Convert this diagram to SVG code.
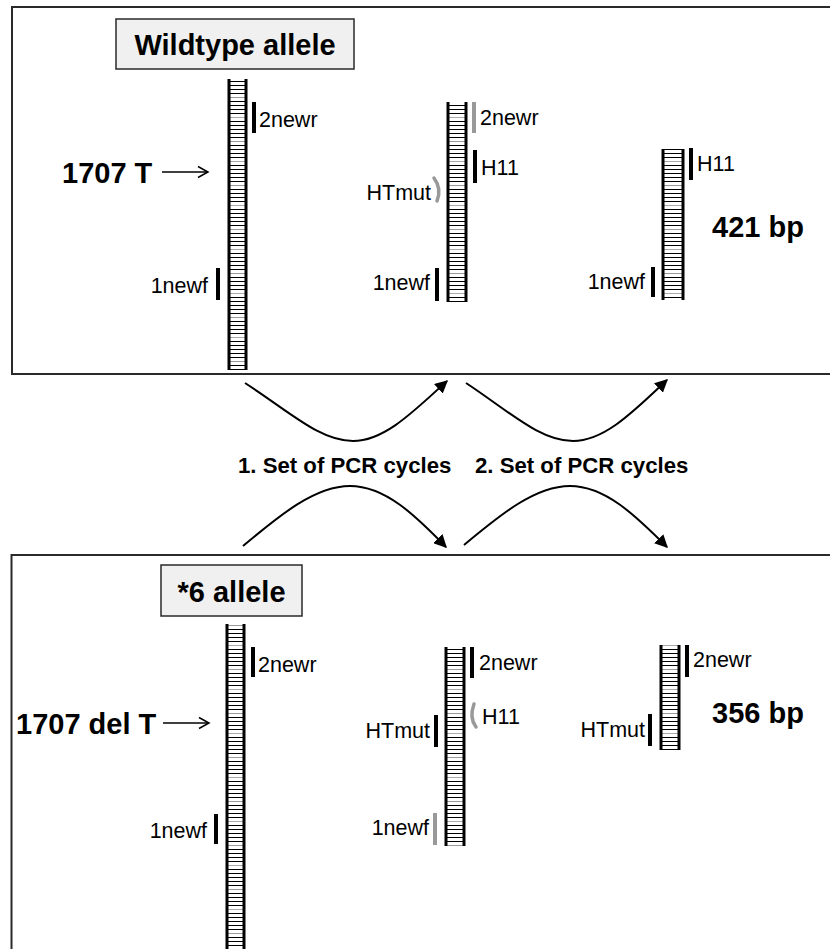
<svg xmlns="http://www.w3.org/2000/svg" width="830" height="949" viewBox="0 0 830 949">
<style>
  .panel{fill:#fff;stroke:#2a2a2a;stroke-width:2}
  .title{fill:#f0f0f0;stroke:#2a2a2a;stroke-width:1.5}
  .big{font-family:"Liberation Sans",Arial,sans-serif;font-weight:bold;font-size:29px;fill:#000}
  .pcr{font-family:"Liberation Sans",Arial,sans-serif;font-weight:bold;font-size:22.2px;fill:#000}
  .lbl{font-family:"Liberation Sans",Arial,sans-serif;font-size:21.5px;fill:#000}
  .end{text-anchor:end}
  .strand{stroke:#000;stroke-width:3;fill:none}
  .bar{stroke:#000;stroke-width:4;fill:none}
  .gbar{stroke:#999;stroke-width:4;fill:none}
  .gcurve{stroke:#999;stroke-width:3.5;fill:none;stroke-linecap:round}
  .conn{stroke:#000;stroke-width:2;fill:none}
  .ptr{stroke:#000;stroke-width:1.5;fill:none}
</style>
<defs>
  <pattern id="rungs" patternUnits="userSpaceOnUse" x="0" y="0" width="40" height="44">
    <g stroke-width="1.2">
      <line x1="0" y1="1.5" x2="40" y2="1.5" stroke="#000"/>
      <line x1="0" y1="5.5" x2="40" y2="5.5" stroke="#000"/>
      <line x1="0" y1="9.5" x2="40" y2="9.5" stroke="#999"/>
      <line x1="0" y1="13.5" x2="40" y2="13.5" stroke="#000"/>
      <line x1="0" y1="17.5" x2="40" y2="17.5" stroke="#000"/>
      <line x1="0" y1="21.5" x2="40" y2="21.5" stroke="#000"/>
      <line x1="0" y1="25.5" x2="40" y2="25.5" stroke="#000"/>
      <line x1="0" y1="29.5" x2="40" y2="29.5" stroke="#aaa"/>
      <line x1="0" y1="33.5" x2="40" y2="33.5" stroke="#000"/>
      <line x1="0" y1="37.5" x2="40" y2="37.5" stroke="#000"/>
      <line x1="0" y1="41.5" x2="40" y2="41.5" stroke="#000"/>
    </g>
  </pattern>
  <marker id="ah" viewBox="0 0 10 10" refX="9" refY="5" markerWidth="6.5" markerHeight="6.5" orient="auto" markerUnits="strokeWidth">
    <path d="M0,0 L10,5 L0,10 z" fill="#000"/>
  </marker>
</defs>

<g id="panel-top"><rect class="panel" x="12" y="7" width="830" height="367"/></g>
<g id="panel-bottom"><rect class="panel" x="11.5" y="555" width="830" height="420"/></g>

<g id="title-wildtype">
  <rect class="title" x="116" y="19" width="238" height="50"/>
  <text class="big" x="235" y="55" text-anchor="middle">Wildtype allele</text>
</g>
<g id="title-star6">
  <rect class="title" x="161" y="565" width="141" height="51"/>
  <text class="big" x="231.5" y="602" text-anchor="middle">*6 allele</text>
</g>

<!-- Top panel ladders -->
<g id="ladder-wt-1">
  <rect x="229" y="79" width="17" height="291" fill="url(#rungs)"/>
  <line class="strand" x1="229" y1="79" x2="229" y2="370"/>
  <line class="strand" x1="246" y1="79" x2="246" y2="370"/>
  <line class="bar" x1="254" y1="102" x2="254" y2="133"/>
  <text class="lbl" x="259" y="127">2newr</text>
  <line class="bar" x1="218" y1="268" x2="218" y2="300"/>
  <text class="lbl end" x="208" y="293">1newf</text>
</g>
<g id="label-1707T">
  <text class="big" x="62" y="183">1707 T</text>
  <line class="ptr" x1="162" y1="172" x2="208" y2="172"/>
  <path class="ptr" d="M198,166.5 L208,172 L198,177.5"/>
</g>
<g id="ladder-wt-2">
  <rect x="448" y="102" width="18" height="200" fill="url(#rungs)"/>
  <line class="strand" x1="448" y1="102" x2="448" y2="302"/>
  <line class="strand" x1="466" y1="102" x2="466" y2="302"/>
  <line class="gbar" x1="474" y1="102" x2="474" y2="133"/>
  <text class="lbl" x="480" y="125">2newr</text>
  <line class="bar" x1="475" y1="150" x2="475" y2="183"/>
  <text class="lbl" x="481" y="175">H11</text>
  <path class="gcurve" d="M434,178 Q442,189 437,201"/>
  <text class="lbl end" x="431" y="200">HTmut</text>
  <line class="bar" x1="437" y1="268" x2="437" y2="301"/>
  <text class="lbl end" x="430" y="290">1newf</text>
</g>
<g id="ladder-wt-3">
  <rect x="663" y="149" width="20" height="151" fill="url(#rungs)"/>
  <line class="strand" x1="663" y1="149" x2="663" y2="300"/>
  <line class="strand" x1="683" y1="149" x2="683" y2="300"/>
  <line class="bar" x1="691" y1="148" x2="691" y2="180"/>
  <text class="lbl" x="697" y="171">H11</text>
  <line class="bar" x1="653" y1="267" x2="653" y2="297"/>
  <text class="lbl end" x="645" y="289">1newf</text>
</g>
<g id="label-421bp"><text class="big" x="712" y="237">421 bp</text></g>

<!-- Bottom panel ladders -->
<g id="ladder-mut-1">
  <rect x="227" y="624" width="17" height="330" fill="url(#rungs)"/>
  <line class="strand" x1="227" y1="624" x2="227" y2="954"/>
  <line class="strand" x1="244" y1="624" x2="244" y2="954"/>
  <line class="bar" x1="253" y1="647" x2="253" y2="677"/>
  <text class="lbl" x="258" y="672">2newr</text>
  <line class="bar" x1="216" y1="814" x2="216" y2="844"/>
  <text class="lbl end" x="207" y="838">1newf</text>
</g>
<g id="label-1707delT">
  <text class="big" x="16" y="734">1707 del T</text>
  <line class="ptr" x1="163" y1="723" x2="209" y2="723"/>
  <path class="ptr" d="M199,717.5 L209,723 L199,728.5"/>
</g>
<g id="ladder-mut-2">
  <rect x="446" y="647" width="18" height="199" fill="url(#rungs)"/>
  <line class="strand" x1="446" y1="647" x2="446" y2="846"/>
  <line class="strand" x1="464" y1="647" x2="464" y2="846"/>
  <line class="bar" x1="472" y1="647" x2="472" y2="678"/>
  <text class="lbl" x="479" y="670">2newr</text>
  <path class="gcurve" d="M474,704 Q469,718 476,727"/>
  <text class="lbl" x="482" y="724">H11</text>
  <line class="bar" x1="436" y1="715" x2="436" y2="747"/>
  <text class="lbl end" x="430" y="738">HTmut</text>
  <line class="gbar" x1="435" y1="813" x2="435" y2="845"/>
  <text class="lbl end" x="429" y="835">1newf</text>
</g>
<g id="ladder-mut-3">
  <rect x="661" y="645" width="18" height="105" fill="url(#rungs)"/>
  <line class="strand" x1="661" y1="645" x2="661" y2="750"/>
  <line class="strand" x1="679" y1="645" x2="679" y2="750"/>
  <line class="bar" x1="687" y1="645" x2="687" y2="677"/>
  <text class="lbl" x="693" y="667">2newr</text>
  <line class="bar" x1="650" y1="714" x2="650" y2="746"/>
  <text class="lbl end" x="645" y="737">HTmut</text>
</g>
<g id="label-356bp"><text class="big" x="712" y="723">356 bp</text></g>

<g id="pcr-labels">
  <text class="pcr" x="238" y="473">1. Set of PCR cycles</text>
  <text class="pcr" x="475" y="473">2. Set of PCR cycles</text>
</g>

<g id="connectors">
  <path class="conn" marker-end="url(#ah)" d="M245,383 C290,412 320,441 353,441 C385,441 415,410 447,381"/>
  <path class="conn" marker-end="url(#ah)" d="M466,383 C510,412 540,441 573,441 C605,441 635,410 667,380"/>
  <path class="conn" marker-end="url(#ah)" d="M243,546 C280,515 315,486 350,486 C385,486 415,515 446,547"/>
  <path class="conn" marker-end="url(#ah)" d="M464,545 C500,515 535,486 570,486 C605,486 635,515 667,547"/>
</g>
</svg>
